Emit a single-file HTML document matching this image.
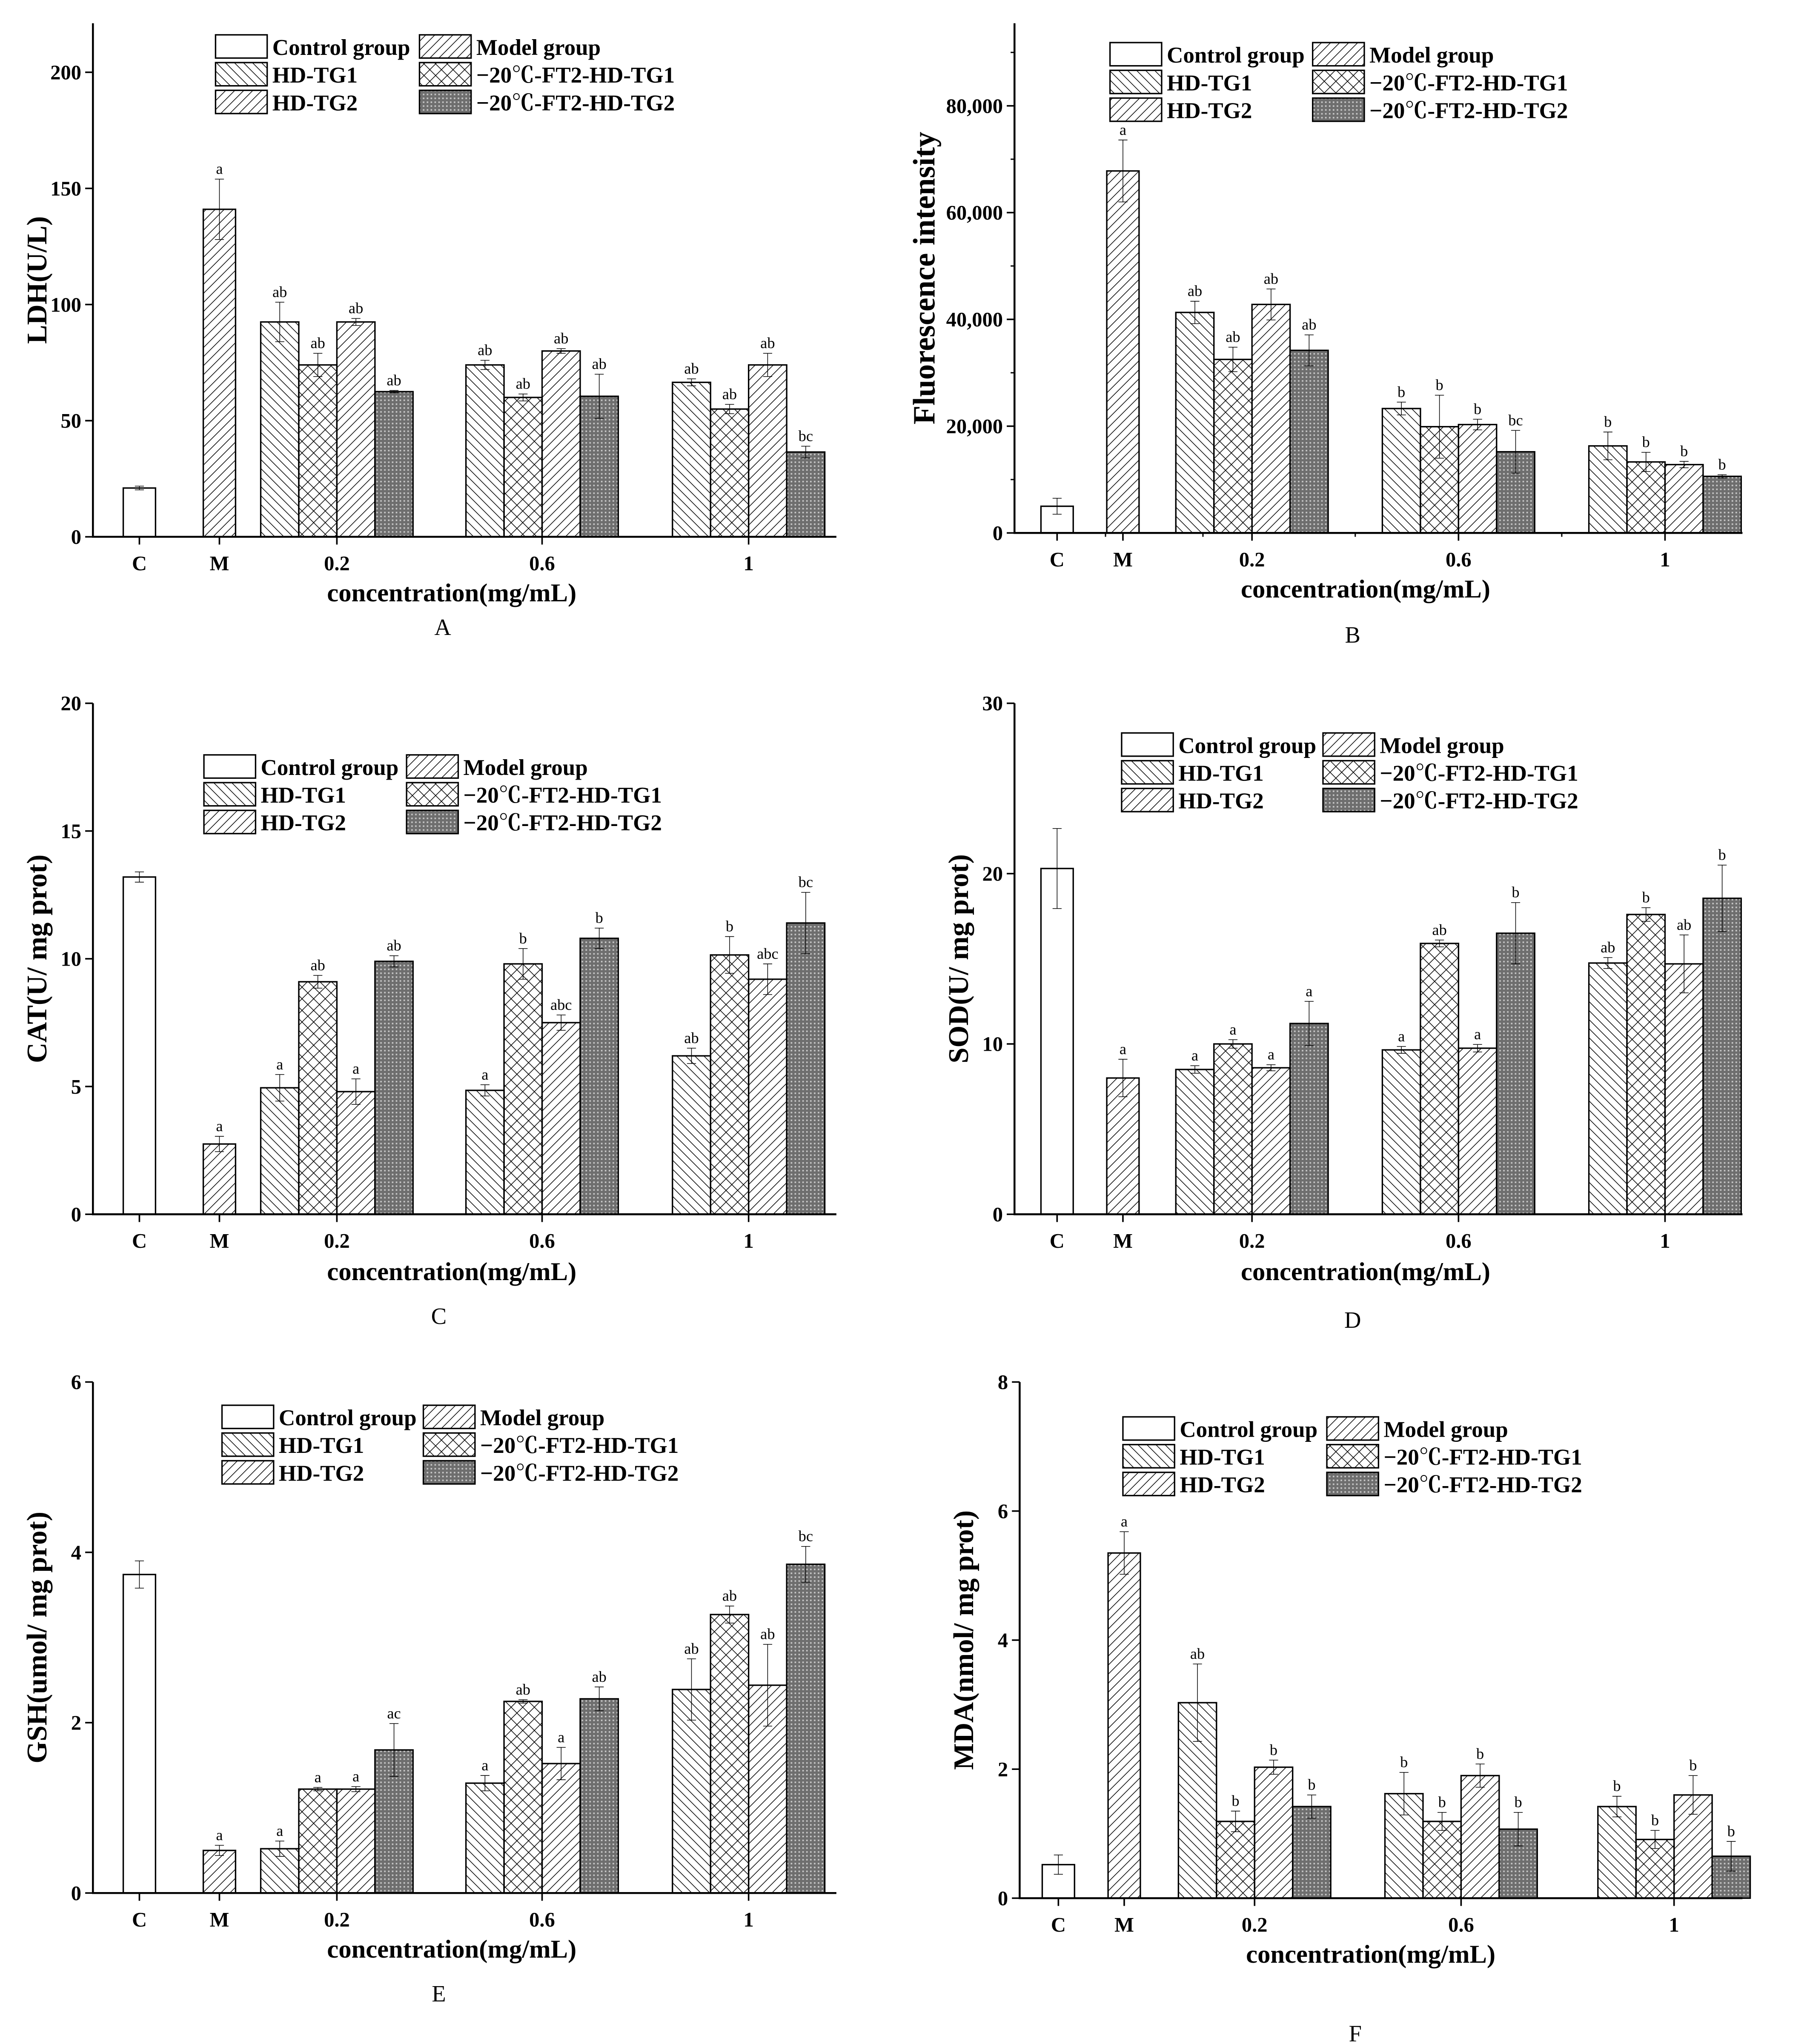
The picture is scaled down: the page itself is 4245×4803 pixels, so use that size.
<!DOCTYPE html>
<html><head><meta charset="utf-8"><title>Biochemical indicators</title>
<style>
html,body{margin:0;padding:0;background:#fff;}
svg{display:block;}
text{font-family:"Liberation Serif","Noto Serif CJK SC",serif;fill:#000;}
</style></head>
<body>
<svg id="fig" xmlns="http://www.w3.org/2000/svg" width="4245" height="4803" viewBox="0 0 1400 1584" preserveAspectRatio="none">
<defs>
<pattern id="pFwd" patternUnits="userSpaceOnUse" width="7" height="7"><path d="M-1,8 L8,-1 M-1,1 L1,-1 M6,8 L8,6" stroke="#000" stroke-width="0.5"/></pattern>
<pattern id="pBack" patternUnits="userSpaceOnUse" width="7" height="7"><path d="M-1,-1 L8,8 M6,-1 L8,1 M-1,6 L1,8" stroke="#000" stroke-width="0.5"/></pattern>
<pattern id="pCross" patternUnits="userSpaceOnUse" width="9" height="9"><path d="M-1,-1 L10,10 M-1,10 L10,-1" stroke="#000" stroke-width="0.5"/></pattern>
<pattern id="pDots" patternUnits="userSpaceOnUse" width="3" height="3"><rect width="3" height="3" fill="#6e6e6e"/><rect x="0.6" y="0.6" width="1.2" height="1.2" fill="#c8c8c8"/></pattern>
</defs>
</svg>
<script>
const categories = ["C","M","0.2","0.6","1"];
const seriesNames = ["Control group","Model group","HD-TG1","\u221220\u2103-FT2-HD-TG1","HD-TG2","\u221220\u2103-FT2-HD-TG2"];
const ldhMeans = [21,141, 92.5,74,92.5,62.5, 74,60,80,60.5, 66.5,55,74,36.5];
const ldhErr   = [0.8,13, 8.5,5,1.5,0.5, 2,1.5,1,9.5, 1.5,2,5,2.5];
const ldhLetters = ["","a","ab","ab","ab","ab","ab","ab","ab","ab","ab","ab","ab","bc"];
const fluoMeans = [5000,67800, 41300,32500,42800,34200, 23300,19900,20300,15200, 16300,13300,12800,10600];
const fluoErr   = [1500,5800, 2100,2300,2900,2900, 1200,5900,1000,4000, 2600,1800,600,300];
const fluoLetters = ["","a","ab","ab","ab","ab","b","b","b","bc","b","b","b","b"];
const catMeans = [13.2,2.75, 4.95,9.1,4.8,9.9, 4.85,9.8,7.5,10.8, 6.2,10.15,9.2,11.4];
const catErr   = [0.2,0.3, 0.52,0.25,0.5,0.22, 0.22,0.6,0.3,0.4, 0.3,0.72,0.6,1.2];
const catLetters = ["","a","a","ab","a","ab","a","b","abc","b","ab","b","abc","bc"];
const sodMeans = [20.3,8.0, 8.5,10.0,8.6,11.2, 9.65,15.9,9.75,16.5, 14.75,17.6,14.7,18.55];
const sodErr   = [2.35,1.1, 0.22,0.25,0.18,1.3, 0.2,0.2,0.22,1.8, 0.32,0.4,1.7,1.95];
const sodLetters = ["","a","a","a","a","a","a","ab","a","b","ab","b","ab","b"];
const gshMeans = [3.74,0.5, 0.52,1.22,1.22,1.68, 1.29,2.25,1.52,2.28, 2.39,3.27,2.44,3.86];
const gshErr   = [0.16,0.06, 0.09,0.02,0.03,0.31, 0.09,0.02,0.19,0.14, 0.36,0.1,0.48,0.21];
const gshLetters = ["","a","a","a","a","ac","a","ab","a","ab","ab","ab","ab","bc"];
const mdaMeans = [0.52,5.35, 3.03,1.19,2.03,1.42, 1.62,1.19,1.9,1.07, 1.42,0.91,1.6,0.65];
const mdaErr   = [0.15,0.33, 0.6,0.16,0.11,0.18, 0.33,0.14,0.18,0.26, 0.16,0.14,0.3,0.23];
const mdaLetters = ["","a","ab","b","b","b","b","b","b","b","b","b","b","b"];
const ldhTicks = ["0","50","100","150","200"];
const ldhTickVals = [0,50,100,150,200];
const fluoTicks = ["0","20,000","40,000","60,000","80,000"];
const fluoTickVals = [0,20000,40000,60000,80000];
const catTicks = ["0","5","10","15","20"];
const catTickVals = [0,5,10,15,20];
const sodTicks = ["0","10","20","30"];
const sodTickVals = [0,10,20,30];
const gshTicks = ["0","2","4","6"];
const gshTickVals = [0,2,4,6];
const mdaTicks = ["0","2","4","6","8"];
const mdaTickVals = [0,2,4,6,8];

const fills = ["#fff","url(#pFwd)","url(#pBack)","url(#pCross)","url(#pFwd)","url(#pDots)"];
const NS = "http://www.w3.org/2000/svg";
const svg = document.getElementById("fig");
function mk(tag, attrs, parent, txt){
  const e = document.createElementNS(NS, tag);
  for (const k in attrs) e.setAttribute(k, attrs[k]);
  if (txt !== undefined) e.textContent = txt;
  (parent||svg).appendChild(e);
  return e;
}

const panels = [
 {id:"ldh", means:ldhMeans, err:ldhErr, letters:ldhLetters, ticks:ldhTicks, tickVals:ldhTickVals, ymax:200, ax:72, base:416, ytop:56, atop:18, right:648, cx:[108,170,261,420,580], ylab:"LDH(U/L)", ylfs:22, ylx:36, legX:[167,325], legY:27, xlab:[350,466], pl:"A", plPos:[343,492], minor:false},
 {id:"fluorescence", means:fluoMeans, err:fluoErr, letters:fluoLetters, ticks:fluoTicks, tickVals:fluoTickVals, ymax:80000, ax:786, base:413, ytop:82, atop:18, right:1350, cx:[819,870,970,1130,1290], ylab:"Fluorescence intensity", ylfs:24, ylx:724, legX:[860,1017], legY:33, xlab:[1058,463], pl:"B", plPos:[1048,498], minor:true},
 {id:"cat", means:catMeans, err:catErr, letters:catLetters, ticks:catTicks, tickVals:catTickVals, ymax:20, ax:72, base:941, ytop:545, atop:545, right:648, cx:[108,170,261,420,580], ylab:"CAT(U/ mg prot)", ylfs:22, ylx:36, legX:[158,315], legY:585, xlab:[350,992], pl:"C", plPos:[340,1026], minor:false},
 {id:"sod", means:sodMeans, err:sodErr, letters:sodLetters, ticks:sodTicks, tickVals:sodTickVals, ymax:30, ax:786, base:941, ytop:545, atop:545, right:1350, cx:[819,870,970,1130,1290], ylab:"SOD(U/ mg prot)", ylfs:22, ylx:750, legX:[869,1025], legY:568, xlab:[1058,992], pl:"D", plPos:[1048,1029], minor:false},
 {id:"gsh", means:gshMeans, err:gshErr, letters:gshLetters, ticks:gshTicks, tickVals:gshTickVals, ymax:6, ax:72, base:1467, ytop:1071, atop:1071, right:648, cx:[108,170,261,420,580], ylab:"GSH(umol/ mg prot)", ylfs:22, ylx:36, legX:[172,328], legY:1089, xlab:[350,1517], pl:"E", plPos:[340,1551], minor:false},
 {id:"mda", means:mdaMeans, err:mdaErr, letters:mdaLetters, ticks:mdaTicks, tickVals:mdaTickVals, ymax:8, ax:790, base:1471, ytop:1071, atop:1071, right:1350, cx:[820,871,972,1132,1297], ylab:"MDA(nmol/ mg prot)", ylfs:22, ylx:754, legX:[870,1028], legY:1098, xlab:[1062,1521], pl:"F", plPos:[1050,1582], minor:false}
];

panels.forEach(p => {
  const g = mk("g", {});
  
  
  const y = v => p.base - (v / p.ymax) * (p.base - p.ytop);
  const bw = 29.5, sw = 25;
  const barsG = mk("g", {}, g);
  
  
  p.means.forEach((v, i) => {
    let cx, w, s;
    if (i < 2) { cx = p.cx[i]; w = sw; s = i; }
    else { const gi = Math.floor((i - 2) / 4), k = (i - 2) % 4; cx = p.cx[2 + gi] + (k - 1.5) * bw; w = bw; s = [2,3,4,5][k]; }
    const r = mk("rect", {x: cx - w/2, y: y(v), width: w, height: p.base - y(v), fill: fills[s], stroke: "#000", "stroke-width": 1.1}, barsG);
    
    
    const e = p.err[i], lo = y(v - e), hi = y(v + e);
    const eb = mk("path", {d: `M${cx},${lo} L${cx},${hi} M${cx-3.5},${hi} L${cx+3.5},${hi} M${cx-3.5},${lo} L${cx+3.5},${lo}`, stroke: "#000", "stroke-width": 0.5, fill: "none"}, barsG);
    
    
    if (p.letters[i]) {
      const t = mk("text", {x: cx, y: hi - 4, "font-size": 12, "text-anchor": "middle"}, barsG, p.letters[i]);
      
      
    }
  });
  const ax = mk("path", {d: `M${p.ax},${p.atop} L${p.ax},${p.base} L${p.right},${p.base}`, stroke: "#000", "stroke-width": 1.5, fill: "none"}, g);
  
  
  p.tickVals.forEach((tv, i) => {
    mk("line", {x1: p.ax - 6, x2: p.ax, y1: y(tv), y2: y(tv), stroke: "#000", "stroke-width": 1.2}, g);
    const t = mk("text", {x: p.ax - 9, y: y(tv) + 5.5, "font-size": 16, "font-weight": "bold", "text-anchor": "end"}, g, p.ticks[i]);
    
    
    if (p.minor && i < p.tickVals.length - 1) {
      const mv = (tv + p.tickVals[i+1]) / 2;
      mk("line", {x1: p.ax - 3, x2: p.ax, y1: y(mv), y2: y(mv), stroke: "#000", "stroke-width": 1}, g);
    }
  });
  if (p.minor) {
    const top = p.tickVals[p.tickVals.length-1] + (p.tickVals[1]-p.tickVals[0]) / 2;
    mk("line", {x1: p.ax - 3, x2: p.ax, y1: y(top), y2: y(top), stroke: "#000", "stroke-width": 1}, g);
    for (let i = 0; i < p.cx.length - 1; i++) {
      const mx = (p.cx[i] + p.cx[i+1]) / 2 + (i < 2 ? 12 : 0);
      mk("line", {x1: mx, x2: mx, y1: p.base, y2: p.base + 3, stroke: "#000", "stroke-width": 1}, g);
    }
  }
  categories.forEach((c, i) => {
    mk("line", {x1: p.cx[i], x2: p.cx[i], y1: p.base, y2: p.base + 6, stroke: "#000", "stroke-width": 1.2}, g);
    const t = mk("text", {x: p.cx[i], y: p.base + 26, "font-size": 16, "font-weight": "bold", "text-anchor": "middle"}, g, c);
    
    
  });
  const yl = mk("text", {x: 0, y: 0, "font-size": p.ylfs, "font-weight": "bold", "text-anchor": "middle", transform: `translate(${p.ylx},${(p.atop + p.base)/2}) rotate(-90)`}, g, p.ylab);
  
  
  const xl = mk("text", {x: p.xlab[0], y: p.xlab[1], "font-size": 20, "font-weight": "bold", "text-anchor": "middle"}, g, "concentration(mg/mL)");
  
  
  const pl = mk("text", {x: p.plPos[0], y: p.plPos[1], "font-size": 18, "text-anchor": "middle"}, g, p.pl);
  
  
  const lg = mk("g", {}, g);
  
  
  seriesNames.forEach((n, s) => {
    const col = s % 2, row = Math.floor(s / 2);
    const bx = p.legX[col], by = p.legY + row * 21.5;
    const le = mk("g", {}, lg);
    
    
    mk("rect", {x: bx, y: by, width: 40, height: 18, fill: fills[s], stroke: "#000", "stroke-width": 1.1}, le);
    mk("text", {x: bx + 44, y: by + 15.5, "font-size": 17.5, "font-weight": "bold"}, le, n);
  });
});
</script>
</body></html>
